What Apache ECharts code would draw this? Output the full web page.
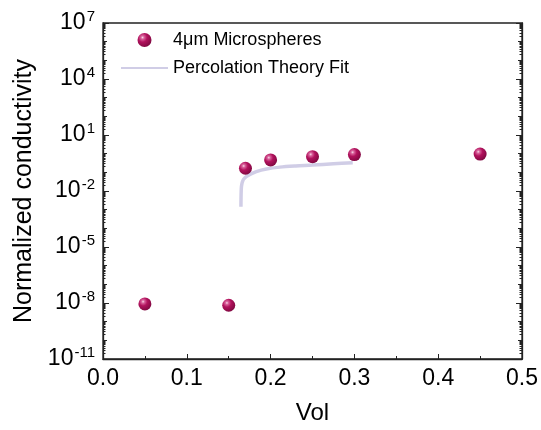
<!DOCTYPE html>
<html>
<head>
<meta charset="utf-8">
<script src="https://cdn.jsdelivr.net/npm/echarts@6/dist/echarts.min.js"></script>
<style>html,body{margin:0;padding:0;background:#fff}#c{width:541px;height:430px}</style>
</head>
<body>
<div id="c"></div>
<script>
// Data
var volX = [0.05, 0.15, 0.17, 0.20, 0.25, 0.30, 0.45];
var condY = [8.9e-9, 7.6e-9, 0.165, 0.46, 0.69, 0.89, 0.95];
var fitX = [0.1646, 0.1647, 0.1649, 0.1652, 0.1658, 0.1667, 0.168, 0.171, 0.176, 0.183, 0.195, 0.211, 0.23, 0.25, 0.275, 0.298];
var fitY = [1.45e-3, 4e-3, 0.010, 0.017, 0.025, 0.034, 0.044, 0.059, 0.08, 0.11, 0.15, 0.19, 0.22, 0.245, 0.29, 0.33];
var xTicks = [0.0, 0.1, 0.2, 0.3, 0.4, 0.5];
var yTickExps = [-11, -8, -5, -2, 1, 4, 7];

var yMin = Math.pow(10, yTickExps[0]);
var yMax = Math.pow(10, yTickExps[yTickExps.length - 1]);
var decadeTicks = [], fineTicks = [];
for (var e = yTickExps[0]; e <= yTickExps[yTickExps.length - 1]; e++) {
  decadeTicks.push(Math.pow(10, e));
  if (e < yTickExps[yTickExps.length - 1]) {
    for (var k = 2; k <= 9; k++) fineTicks.push(k * Math.pow(10, e));
  }
}
var axisColor = '#222';
var sphere = {
  type: 'radial', x: 0.36, y: 0.32, r: 0.72,
  colorStops: [
    {offset: 0, color: '#f8dbe9'},
    {offset: 0.16, color: '#d9649d'},
    {offset: 0.45, color: '#b2125d'},
    {offset: 1, color: '#7e0840'}
  ]
};

function yAxisDef(pos, tickVals, len, labels, line) {
  var a = {
    type: 'log', logBase: 10, min: yMin, max: yMax, position: pos,
    axisLine: {show: line, lineStyle: {color: axisColor, width: 1.3}},
    splitLine: {show: false},
    axisTick: {show: true, inside: true, length: len, lineStyle: {color: axisColor, width: 1}},
    axisLabel: {show: false}
  };
  if (tickVals) { a.axisTick.customValues = tickVals; } else { a.interval = 3; }
  if (labels) {
    a.interval = 3;
    a.axisLabel = {
      show: true, margin: 8, color: '#000',
      customValues: yTickExps.map(function (x) { return Math.pow(10, x); }),
      formatter: function (v) {
        var ex = Math.round(Math.log10(v));
        return '{b|10}{s|' + ex + '}';
      },
      rich: {
        b: {fontSize: 23, fontFamily: 'Liberation Sans', color: '#000'},
        s: {fontSize: 15, fontFamily: 'Liberation Sans', color: '#000', padding: [0, 0, 12, 1]}
      }
    };
    a.name = 'Normalized conductivity';
    a.nameLocation = 'middle';
    a.nameGap = 63;
    a.nameTextStyle = {fontSize: 25, fontFamily: 'Liberation Sans', color: '#000'};
  }
  return a;
}

var chart = echarts.init(document.getElementById('c'));
chart.setOption({
  animation: false,
  backgroundColor: '#fff',
  grid: {left: 103, right: 18, top: 23, bottom: 71, show: true, borderColor: axisColor, borderWidth: 1.3},
  legend: {
    left: 120, top: 31, padding: 0, orient: 'vertical', itemWidth: 47, itemHeight: 14, itemGap: 10,
    textStyle: {fontSize: 18, fontFamily: 'Liberation Sans', color: '#000'},
    data: [
      {name: '4μm Microspheres', icon: 'circle'},
      {name: 'Percolation Theory Fit', itemStyle: {opacity: 0, borderWidth: 0}}
    ]
  },
  xAxis: [{
    type: 'value', min: xTicks[0], max: xTicks[xTicks.length - 1], interval: 0.1,
    position: 'bottom',
    axisLine: {show: true, lineStyle: {color: axisColor, width: 1.3}},
    splitLine: {show: false},
    axisTick: {show: true, inside: true, length: 5, lineStyle: {color: axisColor, width: 1}},
    minorTick: {show: true, splitNumber: 2, length: 3, lineStyle: {color: axisColor, width: 1}},
    axisLabel: {margin: 8, fontSize: 23, fontFamily: 'Liberation Sans', color: '#000',
      formatter: function (v) { return v.toFixed(1); }},
    name: 'Vol', nameLocation: 'middle', nameGap: 42,
    nameTextStyle: {fontSize: 24, fontFamily: 'Liberation Sans', color: '#000'}
  }],
  yAxis: [
    yAxisDef('left', null, 6, true, true),
    yAxisDef('left', decadeTicks, 4, false, false),
    yAxisDef('left', fineTicks, 2.5, false, false),
    yAxisDef('right', null, 6, false, true),
    yAxisDef('right', decadeTicks, 4, false, false),
    yAxisDef('right', fineTicks, 2.5, false, false)
  ],
  series: [
    {
      name: 'Percolation Theory Fit', type: 'line', xAxisIndex: 0, yAxisIndex: 0,
      data: fitX.map(function (x, i) { return [x, fitY[i]]; }),
      symbol: 'none', showSymbol: false, smooth: 0.3,
      lineStyle: {color: '#d0cde6', width: 3.5},
      itemStyle: {color: '#d0cde6'},
      z: 2
    },
    {
      name: '4μm Microspheres', type: 'scatter', xAxisIndex: 0, yAxisIndex: 0,
      data: volX.map(function (x, i) { return [x, condY[i]]; }),
      symbol: 'circle', symbolSize: 13,
      itemStyle: {color: sphere, opacity: 1},
      z: 3
    }
  ]
});
</script>
</body>
</html>
